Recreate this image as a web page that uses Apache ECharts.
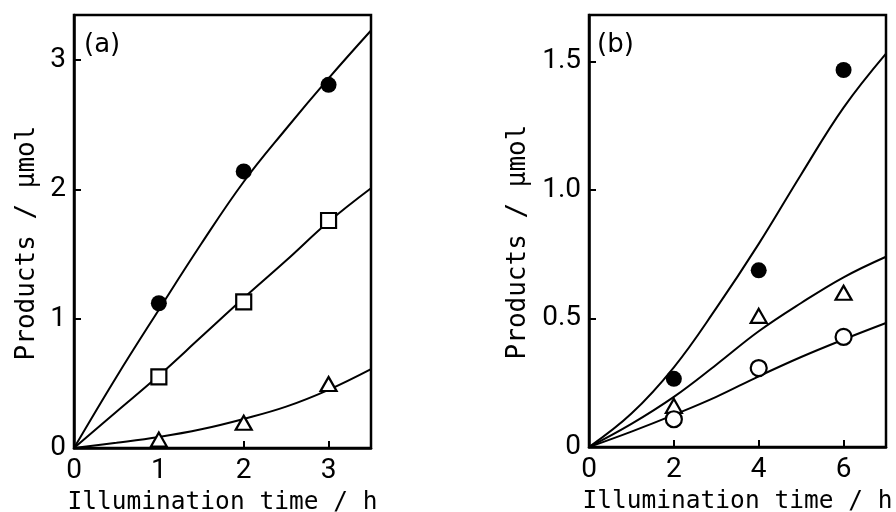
<!DOCTYPE html>
<html><head><meta charset="utf-8">
<script src="https://cdn.jsdelivr.net/npm/echarts@6/dist/echarts.min.js"></script>
<style>html,body{margin:0;padding:0;background:#fff}#c{width:896px;height:512px}</style>
</head><body><div id="c"></div>
<script>
// ---- Panel (a) ----
const aTimes = [1, 2, 3];
const aFilledCircle = [1.12, 2.14, 2.81];
const aSquare = [0.55, 1.13, 1.76];
const aTriangle = [0.065, 0.195, 0.495];
const aCurveX = [0, 0.5, 1, 1.5, 2, 2.5, 3, 3.5];
const aCurveCircle = [0, 0.55, 1.07, 1.58, 2.06, 2.47, 2.86, 3.23];
const aCurveSquare = [0, 0.28, 0.56, 0.86, 1.16, 1.45, 1.75, 2.01];
const aCurveTriangle = [0, 0.04, 0.085, 0.145, 0.225, 0.32, 0.45, 0.61];
const aXTicks = [0, 1, 2, 3];
const aYTicks = [0, 1, 2, 3];
const aYTickLabels = ['0', '1', '2', '3'];
// ---- Panel (b) ----
const bTimes = [2, 4, 6];
const bFilledCircle = [0.265, 0.687, 1.466];
const bTriangle = [0.16, 0.51, 0.60];
const bOpenCircle = [0.108, 0.307, 0.428];
const bCurveX = [0, 1, 2, 3, 4, 5, 6, 7];
const bCurveFilled = [0, 0.13, 0.31, 0.54, 0.79, 1.06, 1.32, 1.53];
const bCurveTriangle = [0, 0.09, 0.195, 0.32, 0.45, 0.56, 0.66, 0.74];
const bCurveOpen = [0, 0.06, 0.125, 0.195, 0.275, 0.35, 0.418, 0.482];
const bXTicks = [0, 2, 4, 6];
const bYTicks = [0, 0.5, 1.0, 1.5];
const bYTickLabels = ['0', '0.5', '1.0', '1.5'];

const xName = 'Illumination time / h';
const yName = 'Products / \u03bcmol';

const pair = (xs, ys) => xs.map((x, i) => [x, ys[i]]);
const chart = echarts.init(document.getElementById('c'), null, {renderer: 'canvas'});

const black = '#000';
const tickFont = 'Roboto';
function xAxis(gi, max, ticks) {
  return {
    type: 'value', gridIndex: gi, min: 0, max: max,
    axisLine: {show: true, onZero: false, lineStyle: {color: black, width: 2.5}},
    axisTick: {show: true, inside: true, length: 7, lineStyle: {color: black, width: 2}, customValues: ticks},
    axisLabel: {show: true, margin: 9, color: black, fontSize: 28, fontFamily: tickFont, customValues: ticks},
    splitLine: {show: false},
    name: xName, nameLocation: 'middle', nameGap: 36,
    nameTextStyle: {color: black, fontSize: 24.5, fontFamily: 'DejaVu Sans Mono'}
  };
}
function yAxis(gi, max, ticks, labels) {
  return {
    type: 'value', gridIndex: gi, min: 0, max: max,
    axisLine: {show: true, onZero: false, lineStyle: {color: black, width: 2.5}},
    axisTick: {show: true, inside: true, length: 7, lineStyle: {color: black, width: 2}, customValues: ticks},
    axisLabel: {show: true, margin: 8, color: black, fontSize: 28, fontFamily: tickFont, customValues: ticks,
      formatter: v => { const i = ticks.findIndex(t => Math.abs(t - v) < 1e-9); return i >= 0 ? labels[i] : ''; }},
    splitLine: {show: false}
  };
}
function curve(xi, yi, xs, ys) {
  return {type: 'line', xAxisIndex: xi, yAxisIndex: yi, data: pair(xs, ys), smooth: 0.4,
    symbol: 'none', lineStyle: {color: black, width: 2}, z: 2, silent: true};
}
function pts(xi, yi, xs, ys, symbol, size, filled) {
  return {type: 'scatter', xAxisIndex: xi, yAxisIndex: yi, data: pair(xs, ys), symbol: symbol, symbolSize: size,
    itemStyle: filled ? {color: black, opacity: 1} : {color: '#fff', borderColor: black, borderWidth: 2.2, opacity: 1},
    z: 5, silent: true};
}
function yTitle(x, y) {
  return {type: 'text', x: x, y: y, rotation: Math.PI / 2,
    style: {text: yName, fill: black, font: '26px "DejaVu Sans Mono"', align: 'center', verticalAlign: 'middle'}};
}

chart.setOption({
  animation: false,
  backgroundColor: '#fff',
  grid: [
    {left: 74, top: 15, width: 297, height: 433, outerBoundsMode: 'none', containLabel: false,
      show: true, borderColor: black, borderWidth: 2.5, backgroundColor: 'transparent'},
    {left: 589, top: 15, width: 297, height: 432, outerBoundsMode: 'none', containLabel: false,
      show: true, borderColor: black, borderWidth: 2.5, backgroundColor: 'transparent'}
  ],
  xAxis: [xAxis(0, 3.5, aXTicks), xAxis(1, 7, bXTicks)],
  yAxis: [yAxis(0, 3.35, aYTicks, aYTickLabels), yAxis(1, 1.68, bYTicks, bYTickLabels)],
  graphic: [
    {type: 'text', left: 84, top: 32, style: {text: '(a)', fill: black, font: '26px "DejaVu Sans"'}},
    {type: 'text', left: 597, top: 32, style: {text: '(b)', fill: black, font: '26px "DejaVu Sans"'}},
    yTitle(27, 243),
    yTitle(518, 242)
  ],
  series: [
    curve(0, 0, aCurveX, aCurveCircle),
    curve(0, 0, aCurveX, aCurveSquare),
    curve(0, 0, aCurveX, aCurveTriangle),
    pts(0, 0, aTimes, aFilledCircle, 'circle', 16, true),
    pts(0, 0, aTimes, aSquare, 'rect', 15, false),
    pts(0, 0, aTimes, aTriangle, 'triangle', [16, 14], false),
    curve(1, 1, bCurveX, bCurveFilled),
    curve(1, 1, bCurveX, bCurveTriangle),
    curve(1, 1, bCurveX, bCurveOpen),
    pts(1, 1, bTimes, bFilledCircle, 'circle', 16, true),
    pts(1, 1, bTimes, bTriangle, 'triangle', [16, 14], false),
    pts(1, 1, bTimes, bOpenCircle, 'circle', 16, false)
  ]
});
</script>
</body></html>
